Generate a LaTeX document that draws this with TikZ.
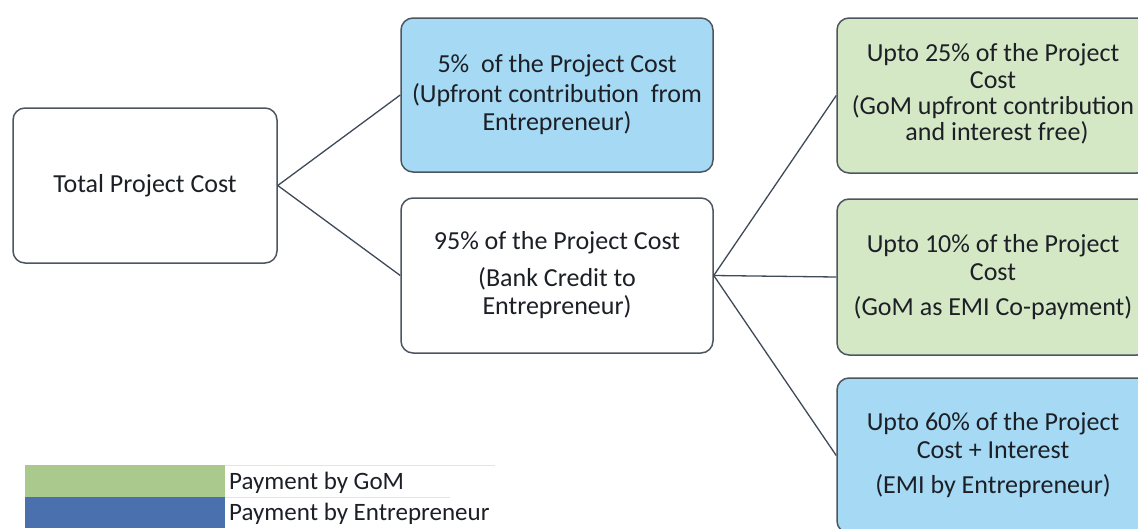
\documentclass[tikz,border=0pt]{standalone}
\usepackage{fontspec}
\setmainfont{Carlito}
\definecolor{boxline}{HTML}{4D5660}
\definecolor{edgeline}{HTML}{3E4A58}
\definecolor{bluefill}{HTML}{A6D9F4}
\definecolor{greenfill}{HTML}{D5E8C5}
\definecolor{leggreen}{HTML}{A9CA8C}
\definecolor{legblue}{HTML}{4A70AE}
\definecolor{txt}{HTML}{1C2026}
\definecolor{faint}{HTML}{E4E4E4}
\tikzset{
  card/.style={draw=boxline, line width=1.5pt, rounded corners=12pt, inner sep=0pt,
    align=center, text=txt, font=\fontsize{26}{27}\selectfont},
  wcard/.style={card, fill=white},
  bcard/.style={card, fill=bluefill},
  gcard/.style={card, fill=greenfill},
  link/.style={draw=edgeline, line width=1.3pt},
  legtext/.style={anchor=west, inner sep=0pt, text=txt, font=\fontsize{25}{26}\selectfont}
}
\begin{document}
\begin{tikzpicture}[x=1pt, y=-1pt]
\useasboundingbox (0,0) rectangle (1138,528);
\clip (0,0) rectangle (1138,528);
\fill[white] (0,0) rectangle (1138,528);

\node[wcard, minimum width=264pt, minimum height=155pt] (total) at (145,185.5) {Total Project Cost};
\node[bcard, minimum width=312pt, minimum height=154pt] (five) at (557,95)
  {5\%\ \ of the Project Cost\\[3pt](Upfront contribution\ \ from\\[1pt]Entrepreneur)};
\node[wcard, minimum width=312pt, minimum height=155pt] (ninety) at (557,275.5)
  {95\% of the Project Cost\\[10pt](Bank Credit to\\[1pt]Entrepreneur)};
\node[gcard, minimum width=312pt, minimum height=155pt] (twenty) at (993,95.5)
  {Upto 25\% of the Project\\Cost\\[-1pt](GoM upfront contribution\\[-1pt]and interest free\rlap{)}\\[-19pt]\mbox{}};
\node[gcard, minimum width=312pt, minimum height=156pt] (ten) at (993,277)
  {Upto 10\% of the Project\\[1pt]Cost\\[8pt](GoM\ as EMI Co-payment)};
\node[bcard, minimum width=312pt, minimum height=155pt] (sixty) at (993,455.5)
  {Upto 60\% of the Project\\[1pt]Cost + Interest\\[8pt](EMI by Entrepreneur)};

\draw[link] (total.east) -- (five.west);
\draw[link] (total.east) -- (ninety.west);
\draw[link] (ninety.east) -- (twenty.west);
\draw[link] (ninety.east) -- (ten.west);
\draw[link] (ninety.east) -- (sixty.west);

% legend
\draw[faint, line width=0.8pt] (225,465) -- (495,465);
\draw[faint, line width=0.8pt] (225,497) -- (450,497);
\fill[leggreen] (25,465) rectangle (225,497);
\fill[legblue] (25,497) rectangle (225,528);
\node[legtext] (lg) at (229,483) {Payment by GoM};
\node[legtext] (lb) at (229,514) {Payment by Entrepreneur};
\end{tikzpicture}
\end{document}
